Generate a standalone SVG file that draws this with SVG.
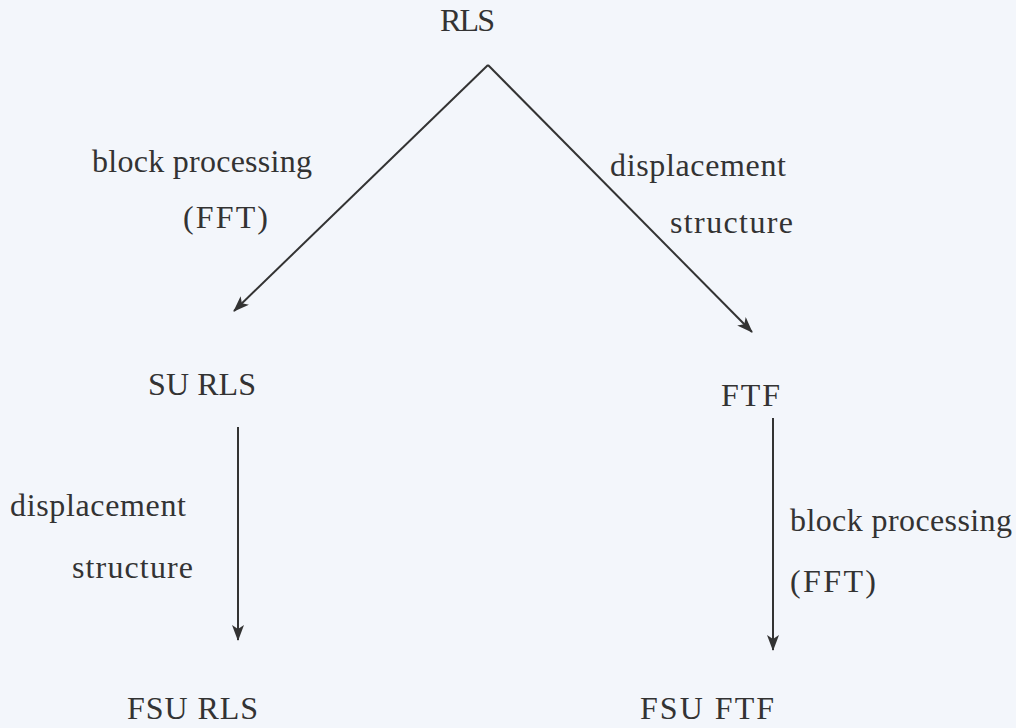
<svg xmlns="http://www.w3.org/2000/svg" width="1016" height="728" viewBox="0 0 1016 728">
<style>
text{font-family:"Liberation Serif","Times New Roman",serif;font-size:32px;fill:#333}
.c{stroke:#333;stroke-width:2;fill:none}
</style>
<defs>
<marker id="ah" viewBox="0 0 16 12" refX="15" refY="6" markerWidth="16" markerHeight="12" markerUnits="userSpaceOnUse" orient="auto">
<path d="M0,0 L16,6 L0,12 L4,6 Z" fill="#333"/>
</marker>
</defs>
<rect width="1016" height="728" fill="#f3f6fb"/>
<g id="connectors">
<line class="c" x1="488" y1="65" x2="234" y2="311" marker-end="url(#ah)"/>
<line class="c" x1="488" y1="65" x2="752" y2="332" marker-end="url(#ah)"/>
<line class="c" x1="238" y1="427" x2="238" y2="640" marker-end="url(#ah)"/>
<line class="c" x1="773" y1="418" x2="773" y2="650" marker-end="url(#ah)"/>
<text x="92" y="172" textLength="220">block processing</text>
<text x="183" y="228" textLength="85">(FFT)</text>
<text x="610" y="176" textLength="176">displacement</text>
<text x="670" y="233" textLength="123">structure</text>
<text x="10" y="516" textLength="176">displacement</text>
<text x="72" y="578" textLength="121">structure</text>
<text x="790" y="531" textLength="222">block processing</text>
<text x="790" y="592" textLength="86">(FFT)</text>
</g>
<g id="n-rls"><text x="440" y="31" textLength="55">RLS</text></g>
<g id="n-surls"><text x="148" y="395" textLength="108">SU RLS</text></g>
<g id="n-ftf"><text x="721" y="406" textLength="59">FTF</text></g>
<g id="n-fsurls"><text x="127" y="719" textLength="131">FSU RLS</text></g>
<g id="n-fsuftf"><text x="640" y="719" textLength="134">FSU FTF</text></g>
</svg>
